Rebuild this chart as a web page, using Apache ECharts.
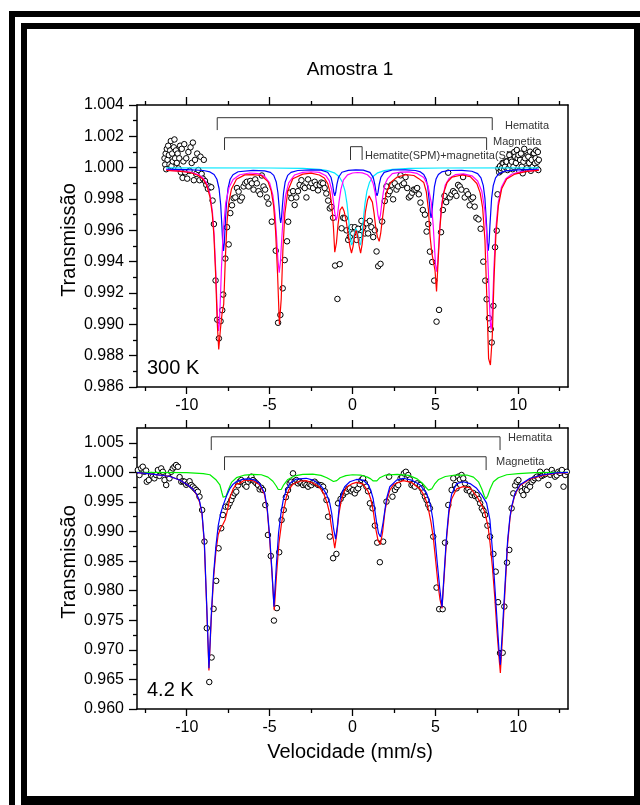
<!DOCTYPE html>
<html>
<head>
<meta charset="utf-8">
<script src="https://cdn.jsdelivr.net/npm/echarts@6/dist/echarts.min.js"></script>
<style>
  html, body { margin: 0; padding: 0; background: #fff; }
  #chart { width: 640px; height: 805px; }
</style>
</head>
<body>
<div id="chart"></div>
<script>
// ---- Tick positions -------------------------------------------------------
const velocityTicks = [-10, -5, 0, 5, 10];
const velocityMinorTicks = [-12.5, -7.5, -2.5, 2.5, 7.5, 12.5];
const trans300Ticks = [0.986, 0.988, 0.990, 0.992, 0.994, 0.996, 0.998, 1.000, 1.002, 1.004];
const trans300MinorTicks = [0.987, 0.989, 0.991, 0.993, 0.995, 0.997, 0.999, 1.001, 1.003];
const trans4Ticks = [0.960, 0.965, 0.970, 0.975, 0.980, 0.985, 0.990, 0.995, 1.000, 1.005];
const trans4MinorTicks = [0.9625, 0.9675, 0.9725, 0.9775, 0.9825, 0.9875, 0.9925, 0.9975, 1.0025];

// ---- 300 K spectrum: measured points [velocity mm/s, transmission] --------
const obs300 = [
[-11.34,1.0006],[-11.3,1.0002],[-11.27,1.0009],[-11.24,0.9999],[-11.2,1.0012],[-11.16,1.0005],[-11.12,1.0014],[-11.08,1.0008],
[-11.04,1.0002],[-11.0,1.0011],[-10.96,1.0017],[-10.92,1.0001],[-10.88,1.0009],[-10.84,1.0004],[-10.78,1.0013],[-10.74,1.0018],
[-10.7,1.0006],[-10.65,1.0011],[-10.6,1.0003],[-10.55,1.0009],[-10.5,0.99995],[-10.45,1.0006],[-10.4,1.0014],[-10.35,0.9997],
[-10.3,1.0012],[-10.25,0.99935],[-10.2,1.0004],[-10.15,1.0015],[-10.1,0.9997],[-10.03,1.0006],[-9.97,0.9993],[-9.9,1.0010],
[-9.83,0.9998],[-9.77,1.0013],[-9.7,1.0003],[-9.63,1.0016],[-9.57,0.9992],[-9.5,1.0005],[-9.43,0.9996],[-9.37,1.0009],
[-9.3,0.99985],[-9.23,0.9992],[-9.17,1.0007],[-9.1,0.9996],[-9.03,0.9993],[-8.97,1.0005],[-8.9,0.99915],[-8.82,0.9989],
[-8.72,0.99865],[-8.62,0.9988],[-8.52,0.99875],[-8.44,0.9979],[-8.36,0.9964],[-8.26,0.9928],[-8.16,0.9903],[-8.06,0.9891],
[-7.96,0.9902],[-7.86,0.9909],[-7.8,0.9919],[-7.67,0.9942],[-7.57,0.9962],[-7.47,0.9951],[-7.37,0.9971],[-7.27,0.9976],
[-7.17,0.99805],[-7.07,0.9981],[-6.97,0.9987],[-6.87,0.99847],[-6.77,0.9979],[-6.67,0.9981],[-6.57,0.9988],[-6.47,0.9990],
[-6.37,0.9991],[-6.27,0.9988],[-6.17,0.99915],[-6.07,0.9990],[-5.97,0.9986],[-5.87,0.99925],[-5.77,0.9990],[-5.67,0.9985],
[-5.57,0.9983],[-5.47,0.9995],[-5.37,0.9988],[-5.27,0.9986],[-5.17,0.9981],[-5.07,0.9977],[-4.87,0.99655],[-4.63,0.9947],
[-4.49,0.9901],[-4.35,0.9906],[-4.21,0.9923],[-4.09,0.9941],[-3.95,0.9953],[-3.88,0.99655],[-3.79,0.9984],[-3.69,0.99805],
[-3.59,0.9985],[-3.49,0.99762],[-3.39,0.9981],[-3.29,0.9985],[-3.19,0.9989],[-3.08,0.9992],[-2.98,0.9988],[-2.88,0.9987],
[-2.78,0.9981],[-2.68,0.99925],[-2.58,0.9988],[-2.48,0.9990],[-2.38,0.9987],[-2.28,0.9991],[-2.18,0.9989],[-2.08,0.99855],
[-1.98,0.9989],[-1.88,0.99905],[-1.78,0.9990],[-1.68,0.9987],[-1.58,0.99835],[-1.47,0.9979],[-1.37,0.9974],[-1.27,0.9975],
[-1.17,0.9968],[-1.05,0.99375],[-0.91,0.99162],[-0.77,0.99384],[-0.66,0.99613],[-0.56,0.9968],[-0.47,0.99677],[-0.36,0.9960],
[-0.26,0.99539],[-0.16,0.9956],[-0.06,0.9962],[0.04,0.9958],[0.14,0.9962],[0.24,0.99539],[0.34,0.9961],[0.44,0.9957],
[0.54,0.9966],[0.64,0.9962],[0.74,0.9958],[0.84,0.99645],[0.94,0.9958],[1.04,0.9966],[1.14,0.9962],[1.25,0.99557],
[1.35,0.9960],[1.45,0.99465],[1.55,0.99371],[1.69,0.99386],[1.79,0.99656],[1.95,0.99787],[2.05,0.9988],[2.15,0.9983],
[2.25,0.9985],[2.35,0.9989],[2.45,0.99798],[2.55,0.9990],[2.65,0.9986],[2.75,0.9988],[2.9,0.99951],[3.0,0.9989],
[3.1,0.9990],[3.2,0.9994],[3.3,0.9987],[3.4,0.9981],[3.5,0.9982],[3.6,0.9984],[3.7,0.9986],[3.8,0.9986],
[3.9,0.9987],[4.0,0.9983],[4.1,0.99777],[4.24,0.9973],[4.37,0.9970],[4.47,0.99592],[4.57,0.9964],[4.67,0.99464],
[4.81,0.99398],[4.93,0.99279],[5.07,0.99017],[5.22,0.99092],[5.34,0.99588],[5.45,0.9973],[5.55,0.9982],[5.65,0.9978],
[5.77,0.99968],[5.87,0.9981],[5.97,0.9983],[6.07,0.9985],[6.17,0.9984],[6.27,0.9982],[6.37,0.9989],[6.47,0.9988],
[6.57,0.9986],[6.67,0.9994],[6.77,0.9981],[6.87,0.9985],[6.97,0.9983],[7.07,0.9976],[7.17,0.9980],[7.27,0.9981],
[7.37,0.99751],[7.47,0.9968],[7.6,0.9967],[7.73,0.9961],[7.89,0.9940],[8.01,0.99279],[8.09,0.9916],[8.23,0.99039],
[8.34,0.98969],[8.4,0.98884],[8.5,0.99118],[8.6,0.99492],[8.7,0.99598],[8.75,0.9983],[8.8,0.99995],[8.85,0.9997],
[8.9,1.0001],[8.95,0.9998],[9.0,0.99996],[9.05,1.0003],[9.1,1.00028],[9.15,0.9999],[9.2,1.00006],[9.25,1.0004],
[9.3,1.00038],[9.35,0.99985],[9.41,0.99996],[9.46,1.0008],[9.51,1.00017],[9.56,1.0005],[9.61,1.00038],[9.66,0.9999],
[9.71,1.00006],[9.76,1.0010],[9.81,1.0007],[9.86,1.0003],[9.91,1.00113],[9.96,1.0006],[10.01,1.00081],[10.06,0.9998],
[10.11,1.00049],[10.16,1.0009],[10.21,1.00006],[10.27,0.99964],[10.31,1.00038],[10.36,1.0012],[10.41,1.0006],[10.46,0.9999],
[10.51,0.99996],[10.56,1.0008],[10.61,1.0007],[10.66,1.0003],[10.71,1.00102],[10.76,0.9998],[10.81,1.0005],[10.87,1.00006],
[10.91,1.0009],[10.95,1.00092],[11.01,1.00028],[11.05,1.0006],[11.07,1.0011],[11.11,0.99996],[11.15,1.00038],[11.18,1.0010],
[11.21,0.99985],[11.24,1.0005]
];

// ---- 300 K fitted subspectra ---------------------------------------------
const fit300Total = [
[-11.24,0.99982],[-10.5,0.99978],[-9.8,0.99969],[-9.3,0.9995],[-9.0,0.99924],[-8.8,0.99888],[-8.6,0.99814],[-8.46,0.99706],
[-8.36,0.99564],[-8.26,0.99327],[-8.16,0.9901],[-8.07,0.9884],[-7.97,0.98966],[-7.87,0.99069],[-7.77,0.99128],[-7.67,0.99421],
[-7.57,0.99652],[-7.47,0.99772],[-7.3,0.99864],[-7.0,0.99926],[-6.5,0.99954],[-6.0,0.99956],[-5.5,0.9995],[-5.1,0.99911],
[-4.9,0.9985],[-4.76,0.99757],[-4.64,0.99596],[-4.52,0.9932],[-4.41,0.9900],[-4.3,0.99162],[-4.2,0.99471],[-4.08,0.99708],
[-3.9,0.99852],[-3.6,0.99929],[-3.0,0.99959],[-2.5,0.99965],[-2.0,0.99953],[-1.7,0.99934],[-1.5,0.9990],[-1.37,0.9985],
[-1.25,0.9976],[-1.15,0.9962],[-1.07,0.9946],[-0.97,0.9952],[-0.87,0.9964],[-0.75,0.9973],[-0.62,0.9975],[-0.5,0.9972],
[-0.38,0.9966],[-0.27,0.9958],[-0.16,0.9950],[-0.06,0.99455],[0.04,0.9950],[0.13,0.9957],[0.22,0.9960],[0.3,0.9957],
[0.4,0.9950],[0.49,0.99455],[0.58,0.9951],[0.68,0.9961],[0.78,0.9972],[0.9,0.9979],[1.0,0.9982],[1.1,0.99815],
[1.2,0.9978],[1.3,0.9971],[1.4,0.9962],[1.5,0.9956],[1.61,0.9953],[1.7,0.9958],[1.8,0.9967],[1.92,0.9977],
[2.05,0.9984],[2.3,0.99905],[2.7,0.9994],[3.2,0.99955],[3.7,0.9995],[4.0,0.9993],[4.3,0.99905],[4.45,0.99848],
[4.58,0.99732],[4.68,0.99562],[4.78,0.99459],[4.88,0.99447],[4.98,0.99342],[5.07,0.9921],[5.17,0.99413],[5.27,0.99607],
[5.37,0.99741],[5.5,0.99839],[5.7,0.99904],[6.0,0.9994],[6.6,0.99953],[7.1,0.99943],[7.5,0.99899],[7.7,0.99839],
[7.85,0.99745],[7.99,0.99537],[8.1,0.99183],[8.21,0.98782],[8.32,0.9874],[8.43,0.98918],[8.54,0.99298],[8.65,0.99568],
[8.8,0.99756],[9.0,0.99865],[9.3,0.99928],[9.8,0.99959],[10.5,0.99976],[11.24,0.99983]
];
const fit300Hematite = [
[-11.24,0.99984],[-10.5,0.9998],[-9.8,0.99972],[-9.3,0.99956],[-9.0,0.99932],[-8.8,0.999],[-8.6,0.99831],[-8.45,0.99719],
[-8.35,0.99577],[-8.25,0.99343],[-8.18,0.99134],[-8.12,0.98992],[-8.08,0.98958],[-8.03,0.99008],[-7.97,0.99164],[-7.9,0.99371],
[-7.8,0.99592],[-7.65,0.99773],[-7.45,0.99873],[-7.2,0.99925],[-6.8,0.99955],[-6.2,0.99966],[-5.7,0.99962],[-5.3,0.99945],
[-5.0,0.99903],[-4.8,0.99823],[-4.67,0.99703],[-4.57,0.99542],[-4.5,0.99412],[-4.42,0.9933],[-4.35,0.99396],[-4.27,0.99542],
[-4.17,0.99703],[-4.04,0.99823],[-3.85,0.99903],[-3.5,0.99953],[-3.0,0.9997],[-2.5,0.99974],[-2.0,0.9997],[-1.6,0.99948],
[-1.4,0.99916],[-1.25,0.99857],[-1.15,0.99785],[-1.07,0.99711],[-0.98,0.99664],[-0.9,0.99701],[-0.81,0.99784],[-0.7,0.99862],
[-0.55,0.9992],[-0.3,0.99954],[0.0,0.99966],[0.3,0.99969],[0.6,0.99967],[0.9,0.99955],[1.1,0.99934],[1.25,0.99897],
[1.36,0.99844],[1.45,0.99775],[1.53,0.99701],[1.61,0.99664],[1.69,0.99701],[1.77,0.99775],[1.86,0.99844],[1.97,0.99897],
[2.12,0.9993],[2.4,0.99962],[2.9,0.99972],[3.4,0.99973],[3.9,0.99963],[4.3,0.99937],[4.55,0.99887],[4.75,0.99777],
[4.87,0.9963],[4.95,0.99485],[5.01,0.99381],[5.07,0.99336],[5.13,0.99381],[5.19,0.99485],[5.27,0.9963],[5.39,0.99777],
[5.59,0.99887],[5.84,0.99933],[6.2,0.99955],[6.7,0.9996],[7.2,0.99948],[7.55,0.99915],[7.8,0.99849],[7.98,0.99731],
[8.09,0.9958],[8.19,0.99348],[8.26,0.9914],[8.32,0.99],[8.36,0.98967],[8.41,0.99015],[8.47,0.9917],[8.54,0.99377],
[8.64,0.996],[8.79,0.99777],[8.99,0.99877],[9.25,0.99929],[9.6,0.99958],[10.1,0.99973],[10.7,0.9998],[11.24,0.99984]
];
const fit300Magnetite = [
[-11.24,0.99989],[-10.0,0.99988],[-9.0,0.99982],[-8.6,0.99973],[-8.35,0.99956],[-8.18,0.99926],[-8.05,0.99867],[-7.95,0.99762],
[-7.88,0.9963],[-7.83,0.99522],[-7.78,0.99469],[-7.73,0.99522],[-7.68,0.9963],[-7.61,0.99762],[-7.51,0.99867],[-7.38,0.99926],
[-7.21,0.99955],[-6.9,0.99974],[-6.0,0.99983],[-5.3,0.9998],[-4.95,0.9997],[-4.75,0.99951],[-4.6,0.99909],[-4.5,0.9984],
[-4.43,0.99754],[-4.38,0.99683],[-4.33,0.99648],[-4.28,0.99683],[-4.23,0.99754],[-4.16,0.9984],[-4.06,0.99909],[-3.91,0.99951],
[-3.71,0.9997],[-3.3,0.99982],[-2.5,0.99986],[-1.9,0.99984],[-1.5,0.99971],[-1.3,0.99939],[-1.2,0.99893],[-1.13,0.99843],
[-1.07,0.9982],[-1.01,0.99843],[-0.94,0.99893],[-0.84,0.99939],[-0.64,0.99971],[-0.25,0.99983],[0.2,0.99986],[0.65,0.99984],
[1.05,0.9997],[1.25,0.99938],[1.35,0.99892],[1.42,0.99842],[1.48,0.9982],[1.54,0.99842],[1.61,0.99892],[1.71,0.99938],
[1.91,0.9997],[2.4,0.99985],[3.2,0.99986],[3.8,0.99982],[4.1,0.99973],[4.3,0.99957],[4.44,0.99927],[4.54,0.99877],
[4.64,0.99774],[4.69,0.9971],[4.74,0.99679],[4.79,0.9971],[4.84,0.99774],[4.94,0.99877],[5.04,0.99927],[5.18,0.99957],
[5.38,0.99973],[5.8,0.99982],[6.6,0.99983],[7.2,0.99977],[7.55,0.99962],[7.75,0.99935],[7.89,0.99885],[7.99,0.99802],
[8.09,0.9963],[8.14,0.99522],[8.19,0.9947],[8.24,0.99522],[8.29,0.9963],[8.39,0.99802],[8.49,0.99885],[8.63,0.99935],
[8.83,0.99962],[9.2,0.99979],[10.0,0.99986],[11.24,0.99989]
];
const fit300Spm = [
[-11.24,0.99999],[-5.0,0.99998],[-3.0,0.99995],[-2.0,0.99989],[-1.5,0.99981],[-1.1,0.99967],[-0.8,0.99942],[-0.6,0.99905],
[-0.45,0.9985],[-0.33,0.99769],[-0.23,0.99667],[-0.14,0.9956],[-0.06,0.99506],[0.02,0.99523],[0.1,0.99575],[0.21,0.99612],
[0.32,0.99575],[0.4,0.99523],[0.48,0.99506],[0.56,0.9956],[0.65,0.99667],[0.75,0.99769],[0.87,0.9985],[1.02,0.99905],
[1.22,0.99942],[1.52,0.99967],[1.92,0.99981],[2.42,0.99989],[3.42,0.99995],[5.42,0.99998],[11.24,0.99999]
];

// ---- 4.2 K spectrum: measured points --------------------------------------
const obs4 = [
[-12.95,1.0004],[-12.85,0.99955],[-12.75,1.00067],[-12.65,1.00095],[-12.55,1.0001],[-12.45,1.0003],[-12.41,0.99842],[-12.29,0.9987],
[-12.15,0.99955],[-12.05,0.99927],[-11.95,0.99899],[-11.85,0.99955],[-11.74,1.0004],[-11.64,0.9994],[-11.54,1.00067],[-11.44,1.0001],
[-11.34,0.9987],[-11.24,0.99786],[-11.14,0.99955],[-11.04,0.99899],[-10.94,1.0001],[-10.84,1.00067],[-10.74,1.00095],[-10.64,1.00124],
[-10.53,1.00095],[-10.43,0.9992],[-10.33,0.99842],[-10.23,0.9985],[-10.13,0.99842],[-10.03,0.9979],[-9.93,0.99814],[-9.83,0.9985],
[-9.73,0.99786],[-9.63,0.9976],[-9.53,0.9973],[-9.43,0.99702],[-9.33,0.99673],[-9.23,0.99589],[-9.07,0.99364],[-8.93,0.9883],
[-8.79,0.97367],[-8.64,0.96456],[-8.5,0.96871],[-8.38,0.97693],[-8.22,0.98166],[-8.08,0.98717],[-7.92,0.99055],[-7.82,0.9928],
[-7.66,0.9942],[-7.51,0.9942],[-7.41,0.99477],[-7.31,0.99533],[-7.21,0.9960],[-7.11,0.99645],[-7.01,0.99673],[-6.91,0.9978],
[-6.81,0.99842],[-6.71,0.9987],[-6.6,0.9984],[-6.5,0.99786],[-6.4,0.99758],[-6.3,0.99842],[-6.2,0.9988],[-6.1,0.99927],
[-6.0,0.9987],[-5.9,0.99842],[-5.8,0.99814],[-5.7,0.99786],[-5.6,0.99713],[-5.5,0.9974],[-5.4,0.99702],[-5.26,0.99448],
[-5.1,0.98942],[-4.93,0.98587],[-4.74,0.97495],[-4.56,0.97705],[-4.42,0.9865],[-4.28,0.99195],[-4.15,0.99364],[-4.02,0.9958],
[-3.89,0.99702],[-3.79,0.99814],[-3.69,0.99842],[-3.59,0.99983],[-3.49,0.9985],[-3.39,0.9987],[-3.29,0.99814],[-3.19,0.99842],
[-3.08,0.9982],[-2.98,0.99786],[-2.88,0.9981],[-2.78,0.99786],[-2.68,0.99758],[-2.58,0.9980],[-2.48,0.99786],[-2.38,0.9983],
[-2.28,0.99842],[-2.18,0.9981],[-2.07,0.99786],[-1.97,0.99786],[-1.87,0.9978],[-1.77,0.99758],[-1.67,0.9968],[-1.57,0.99533],
[-1.47,0.9925],[-1.37,0.98914],[-1.17,0.98549],[-0.97,0.98621],[-0.87,0.99477],[-0.72,0.9955],[-0.57,0.99617],[-0.47,0.9966],
[-0.36,0.99673],[-0.26,0.9972],[-0.16,0.9973],[-0.06,0.9968],[0.04,0.99702],[0.14,0.99645],[0.24,0.99702],[0.34,0.9973],
[0.44,0.9980],[0.54,0.9987],[0.64,0.99899],[0.74,0.9982],[0.84,0.99758],[0.94,0.9968],[1.05,0.99477],[1.21,0.99392],
[1.35,0.9910],[1.49,0.98812],[1.65,0.98481],[1.85,0.98829],[2.05,0.99505],[2.21,0.99927],[2.41,0.99589],[2.56,0.99702],
[2.66,0.9975],[2.76,0.99786],[2.9,0.99899],[3.0,0.9992],[3.1,0.99983],[3.22,1.0001],[3.36,0.99955],[3.46,0.9988],
[3.56,0.99786],[3.66,0.9980],[3.76,0.99758],[3.9,0.99814],[4.07,0.99786],[4.17,0.9973],[4.27,0.9966],[4.37,0.99589],
[4.47,0.99533],[4.57,0.9945],[4.67,0.99392],[4.87,0.98914],[5.07,0.98052],[5.23,0.97688],[5.44,0.97688],[5.58,0.98812],
[5.78,0.99448],[5.98,0.99702],[6.08,0.99899],[6.18,0.99786],[6.28,0.9973],[6.38,0.99927],[6.48,0.9988],[6.58,0.99955],
[6.68,0.99899],[6.79,0.99814],[6.89,0.99702],[6.99,0.9972],[7.09,0.99673],[7.19,0.99617],[7.29,0.9965],[7.39,0.9960],
[7.49,0.99617],[7.6,0.9955],[7.7,0.99477],[7.8,0.99392],[7.9,0.9935],[8.0,0.9928],[8.14,0.9910],[8.3,0.98914],
[8.5,0.98621],[8.64,0.98322],[8.78,0.97806],[8.9,0.96945],[9.06,0.96951],[9.16,0.97732],[9.32,0.98474],[9.46,0.98689],
[9.6,0.99392],[9.7,0.99645],[9.81,0.9978],[9.91,0.99842],[10.01,0.9987],[10.11,0.99758],[10.21,0.9968],[10.31,0.99617],
[10.41,0.9972],[10.51,0.99702],[10.61,0.9978],[10.71,0.99758],[10.81,0.9984],[10.91,0.9987],[11.01,0.9990],[11.12,0.99927],
[11.22,0.9990],[11.32,1.0001],[11.42,0.9994],[11.52,0.99955],[11.62,0.9997],[11.72,1.0001],[11.82,0.99786],[11.92,0.9996],
[12.02,1.0004],[12.12,0.9998],[12.22,0.99927],[12.32,0.9995],[12.42,1.0001],[12.52,0.9999],[12.63,1.0004],[12.73,0.99758],
[12.83,0.99955],[12.93,1.0001]
];

// ---- 4.2 K fitted subspectra ---------------------------------------------
const fit4Total = [
[-13.0,0.99995],[-12.3,0.9998],[-11.64,0.99955],[-11.0,0.9993],[-10.43,0.9987],[-10.0,0.9980],[-9.63,0.9972],[-9.4,0.9962],
[-9.23,0.9950],[-9.08,0.9930],[-8.94,0.9880],[-8.8,0.9775],[-8.66,0.9665],[-8.52,0.9752],[-8.38,0.9822],[-8.24,0.9866],
[-8.1,0.9895],[-7.96,0.9905],[-7.82,0.9912],[-7.68,0.9920],[-7.54,0.9936],[-7.4,0.9957],[-7.2,0.9972],[-7.0,0.9980],
[-6.81,0.99814],[-6.5,0.9987],[-6.0,0.9986],[-5.6,0.9979],[-5.3,0.9962],[-5.14,0.9935],[-5.0,0.9888],[-4.86,0.9830],
[-4.72,0.9767],[-4.58,0.9828],[-4.44,0.9880],[-4.3,0.9910],[-4.16,0.9935],[-4.0,0.9957],[-3.85,0.9970],[-3.6,0.9980],
[-3.2,0.9985],[-2.8,0.9986],[-2.4,0.9982],[-2.0,0.9975],[-1.75,0.9965],[-1.55,0.9950],[-1.4,0.9933],[-1.28,0.9910],
[-1.17,0.9890],[-1.07,0.9872],[-0.95,0.9895],[-0.82,0.9930],[-0.68,0.9952],[-0.5,0.9968],[-0.3,0.9976],[0.0,0.9981],
[0.24,0.9983],[0.64,0.9980],[0.94,0.9968],[1.1,0.9955],[1.25,0.9935],[1.4,0.9905],[1.54,0.9885],[1.68,0.9878],
[1.82,0.9900],[1.96,0.9935],[2.1,0.9955],[2.25,0.9970],[2.5,0.9980],[3.06,0.9986],[3.56,0.9983],[4.07,0.9972],
[4.3,0.9962],[4.47,0.9950],[4.6,0.9935],[4.74,0.9915],[4.88,0.9888],[5.02,0.9850],[5.16,0.9810],[5.28,0.9785],
[5.4,0.9770],[5.54,0.9828],[5.68,0.9890],[5.82,0.9932],[5.98,0.9955],[6.28,0.9972],[6.68,0.9976],[7.09,0.9974],
[7.49,0.9960],[7.79,0.9945],[7.95,0.9935],[8.07,0.9922],[8.18,0.9908],[8.3,0.9880],[8.44,0.9840],[8.58,0.9790],
[8.72,0.9730],[8.86,0.9680],[8.92,0.9661],[9.06,0.9728],[9.2,0.9800],[9.36,0.9880],[9.5,0.9922],[9.6,0.9940],
[9.8,0.9963],[10.11,0.9978],[10.71,0.9989],[11.52,0.9995],[12.3,0.99985],[13.0,0.99995]
];
const fit4Hematite = [
[-13.0,0.99995],[-12.3,0.9998],[-11.64,0.99955],[-11.0,0.9993],[-10.43,0.9987],[-10.0,0.9980],[-9.63,0.9972],[-9.4,0.9963],
[-9.23,0.9952],[-9.08,0.9932],[-8.94,0.9884],[-8.8,0.9780],[-8.66,0.9669],[-8.52,0.9758],[-8.38,0.9828],[-8.24,0.9875],
[-8.1,0.9910],[-7.96,0.9930],[-7.82,0.9943],[-7.6,0.9960],[-7.41,0.9972],[-7.2,0.9980],[-7.01,0.99842],[-6.6,0.99885],
[-6.2,0.9989],[-5.9,0.9987],[-5.6,0.9981],[-5.3,0.9965],[-5.14,0.9938],[-5.0,0.9893],[-4.86,0.9835],[-4.74,0.9773],
[-4.6,0.9840],[-4.46,0.9898],[-4.32,0.9930],[-4.18,0.9953],[-4.0,0.9970],[-3.79,0.9981],[-3.39,0.99887],[-2.79,0.9990],
[-2.38,0.9987],[-2.0,0.9980],[-1.78,0.9973],[-1.55,0.9962],[-1.37,0.9948],[-1.25,0.9930],[-1.14,0.9905],[-1.02,0.9887],
[-0.9,0.9912],[-0.77,0.9952],[-0.62,0.9967],[-0.47,0.99757],[-0.16,0.99842],[0.24,0.9988],[0.64,0.9987],[0.94,0.9979],
[1.1,0.9970],[1.25,0.9955],[1.45,0.9916],[1.57,0.9897],[1.69,0.9891],[1.85,0.9916],[2.05,0.9955],[2.25,0.99757],
[2.66,0.9987],[3.06,0.9990],[3.56,0.9987],[4.07,0.9979],[4.47,0.99646],[4.7,0.9945],[4.84,0.9922],[4.98,0.9888],
[5.12,0.9845],[5.26,0.9805],[5.4,0.9772],[5.54,0.9835],[5.68,0.9895],[5.82,0.9938],[5.98,0.9963],[6.28,0.9981],
[6.68,0.99842],[7.09,0.9981],[7.49,0.9973],[7.79,0.9962],[8.09,0.9948],[8.29,0.99195],[8.44,0.9869],[8.58,0.9810],
[8.72,0.9750],[8.86,0.9690],[8.92,0.9675],[9.06,0.9742],[9.2,0.9810],[9.36,0.9886],[9.5,0.9925],[9.6,0.9942],
[9.8,0.99646],[10.11,0.9979],[10.71,0.9990],[11.52,0.9996],[12.3,0.9999],[13.0,1.0000]
];
const fit4Magnetite = [
[-13.0,1.0000],[-10.0,0.99995],[-9.0,0.9998],[-8.6,0.9996],[-8.22,0.9987],[-8.0,0.9979],[-7.88,0.9966],[-7.8,0.9958],
[-7.72,0.9955],[-7.62,0.9960],[-7.5,0.9970],[-7.3,0.9983],[-7.0,0.9991],[-6.5,0.99955],[-6.0,0.99965],[-5.5,0.9996],
[-5.1,0.9992],[-4.8,0.9985],[-4.6,0.9977],[-4.48,0.9971],[-4.39,0.9969],[-4.3,0.9971],[-4.15,0.9979],[-3.9,0.9988],
[-3.5,0.9994],[-3.0,0.99965],[-2.4,0.9997],[-1.9,0.9995],[-1.55,0.9991],[-1.3,0.9987],[-1.15,0.99845],[-1.07,0.9984],
[-0.95,0.9986],[-0.75,0.9991],[-0.4,0.99945],[0.0,0.9996],[0.5,0.99955],[0.9,0.9992],[1.1,0.9989],[1.25,0.99855],
[1.35,0.9984],[1.47,0.99855],[1.65,0.9991],[2.0,0.99955],[2.7,0.99965],[3.4,0.9995],[3.9,0.9989],[4.2,0.9982],
[4.45,0.9974],[4.58,0.9970],[4.67,0.9969],[4.78,0.9972],[4.95,0.9980],[5.2,0.9988],[5.6,0.9993],[6.2,0.99955],
[6.9,0.99955],[7.3,0.9992],[7.6,0.9984],[7.8,0.9972],[7.95,0.9960],[8.05,0.9955],[8.15,0.9960],[8.3,0.9972],
[8.5,0.9984],[8.8,0.9991],[9.3,0.9996],[10.0,0.9998],[11.0,0.99995],[13.0,1.0000]
];

// ---- Sextet markers: [left velocity, right velocity, foot, top] ----------
const bracket300Hematite = [-8.16, 8.43, 1.0024, 1.00319];
const bracket300Magnetite = [-7.72, 8.09, 1.00113, 1.00191];
const bracket300Spm = [-0.12, 0.58, 1.00049, 1.00134];
const bracket4Hematite = [-8.52, 8.90, 1.00377, 1.00601];
const bracket4Magnetite = [-7.72, 8.06, 1.00039, 1.00264];

// ---- Chart construction --------------------------------------------------
const FONT = '"Liberation Sans", Arial, Helvetica, sans-serif';
const AXIS_LINE = { color: '#000', width: 1.5 };
const TICK_LINE = { color: '#000', width: 1.3 };

function xAxisDef(gridIndex, position, ticks, len, showLine, showLabels) {
  return {
    type: 'value', gridIndex, position, min: -13, max: 13,
    axisLine: { show: showLine, onZero: false, lineStyle: AXIS_LINE },
    axisTick: { show: true, customValues: ticks, length: len, inside: false, lineStyle: TICK_LINE },
    axisLabel: { show: showLabels, customValues: ticks, fontSize: 16, margin: 11, color: '#000', fontFamily: FONT },
    splitLine: { show: false }
  };
}
function yAxisDef(gridIndex, position, ticks, len, showLine, showLabels, min, max) {
  return {
    type: 'value', gridIndex, position, min, max,
    axisLine: { show: showLine, onZero: false, lineStyle: AXIS_LINE },
    axisTick: { show: ticks !== null, customValues: ticks || [], length: len, inside: false, lineStyle: TICK_LINE },
    axisLabel: {
      show: showLabels, customValues: ticks || [], fontSize: 16, margin: 13, color: '#000', fontFamily: FONT,
      formatter: v => v.toFixed(3)
    },
    splitLine: { show: false }
  };
}
function bracketData(b) {
  return [[b[0], b[2]], [b[0], b[3]], [b[1], b[3]], [b[1], b[2]]];
}
function curve(data, color, xi, yi, z) {
  return {
    type: 'line', data, xAxisIndex: xi, yAxisIndex: yi, showSymbol: false, symbol: 'none',
    lineStyle: { color, width: 1.2 }, z, silent: true, animation: false
  };
}
function points(data, xi, yi) {
  return {
    type: 'scatter', data, xAxisIndex: xi, yAxisIndex: yi, symbol: 'circle', symbolSize: 5.5,
    itemStyle: { color: '#fff', borderColor: '#000', borderWidth: 1, opacity: 1 }, z: 2, silent: true, animation: false
  };
}
function bracket(b, xi, yi) {
  return {
    type: 'line', data: bracketData(b), xAxisIndex: xi, yAxisIndex: yi, showSymbol: false, symbol: 'none',
    lineStyle: { color: '#333', width: 1 }, z: 4, silent: true, animation: false
  };
}
function label(text, x, y, size, opts) {
  const o = opts || {};
  const el = {
    type: 'text', x, y, z: 1,
    style: {
      text, fontSize: size, fontFamily: FONT, fill: o.fill || '#000',
      align: o.align || 'left', verticalAlign: 'middle'
    }
  };
  if (o.rotation) el.rotation = o.rotation;
  return el;
}

const chart = echarts.init(document.getElementById('chart'), null, { renderer: 'canvas' });
chart.setOption({
  backgroundColor: '#fff',
  animation: false,
  grid: [
    { left: 137, top: 105, width: 431, height: 282, show: false },
    { left: 137, top: 428, width: 431, height: 281, show: false }
  ],
  xAxis: [
    xAxisDef(0, 'bottom', velocityTicks, 7, true, true),
    xAxisDef(0, 'bottom', velocityMinorTicks, 4, false, false),
    xAxisDef(0, 'top', velocityTicks, 8, true, false),
    xAxisDef(0, 'top', velocityMinorTicks, 4, false, false),
    xAxisDef(1, 'bottom', velocityTicks, 7, true, true),
    xAxisDef(1, 'bottom', velocityMinorTicks, 4, false, false),
    xAxisDef(1, 'top', velocityTicks, 8, true, false),
    xAxisDef(1, 'top', velocityMinorTicks, 4, false, false)
  ],
  yAxis: [
    yAxisDef(0, 'left', trans300Ticks, 8, true, true, 0.986, 1.004),
    yAxisDef(0, 'left', trans300MinorTicks, 4, false, false, 0.986, 1.004),
    yAxisDef(0, 'right', null, 0, true, false, 0.986, 1.004),
    yAxisDef(1, 'left', trans4Ticks, 8, true, true, 0.960, 1.0075),
    yAxisDef(1, 'left', trans4MinorTicks, 4, false, false, 0.960, 1.0075),
    yAxisDef(1, 'right', null, 0, true, false, 0.960, 1.0075)
  ],
  series: [
    points(obs300, 0, 0),
    curve(fit300Spm, '#00e8ff', 0, 0, 3),
    curve(fit300Magnetite, '#0000ff', 0, 0, 3),
    curve(fit300Hematite, '#ff00ff', 0, 0, 3),
    curve(fit300Total, '#ff0000', 0, 0, 3),
    bracket(bracket300Hematite, 0, 0),
    bracket(bracket300Magnetite, 0, 0),
    bracket(bracket300Spm, 0, 0),

    points(obs4, 4, 3),
    curve(fit4Magnetite, '#00ee00', 4, 3, 3),
    curve(fit4Total, '#ff0000', 4, 3, 3),
    curve(fit4Hematite, '#0000ff', 4, 3, 3),
    bracket(bracket4Hematite, 4, 3),
    bracket(bracket4Magnetite, 4, 3)
  ],
  graphic: { elements: [
    // double page frame
    { type: 'rect', z: 10, shape: { x: 9, y: 11, width: 631, height: 6 }, style: { fill: '#000' } },
    { type: 'rect', z: 10, shape: { x: 9, y: 11, width: 6, height: 794 }, style: { fill: '#000' } },
    { type: 'rect', z: 10, shape: { x: 21, y: 23, width: 619, height: 6 }, style: { fill: '#000' } },
    { type: 'rect', z: 10, shape: { x: 21, y: 23, width: 6, height: 782 }, style: { fill: '#000' } },
    { type: 'rect', z: 10, shape: { x: 634, y: 23, width: 6, height: 782 }, style: { fill: '#000' } },
    { type: 'rect', z: 10, shape: { x: 21, y: 796, width: 619, height: 9 }, style: { fill: '#000' } },

    label('Amostra 1', 350, 70, 19, { align: 'center' }),
    label('Transmissão', 69, 240, 20, { align: 'center', rotation: Math.PI / 2 }),
    label('Transmissão', 69, 562, 20, { align: 'center', rotation: Math.PI / 2 }),
    label('Velocidade (mm/s)', 350, 752, 20, { align: 'center' }),
    label('300 K', 147, 368, 20),
    label('4.2 K', 147, 690, 20),

    label('Hematita', 505, 126, 11, { fill: '#333' }),
    label('Magnetita', 493, 142, 11, { fill: '#333' }),
    label('Hematite(SPM)+magnetita(SPM)', 365, 156, 11, { fill: '#333' }),
    label('Hematita', 508, 438, 11, { fill: '#333' }),
    label('Magnetita', 496, 462, 11, { fill: '#333' })
  ] }
});
</script>
</body>
</html>
